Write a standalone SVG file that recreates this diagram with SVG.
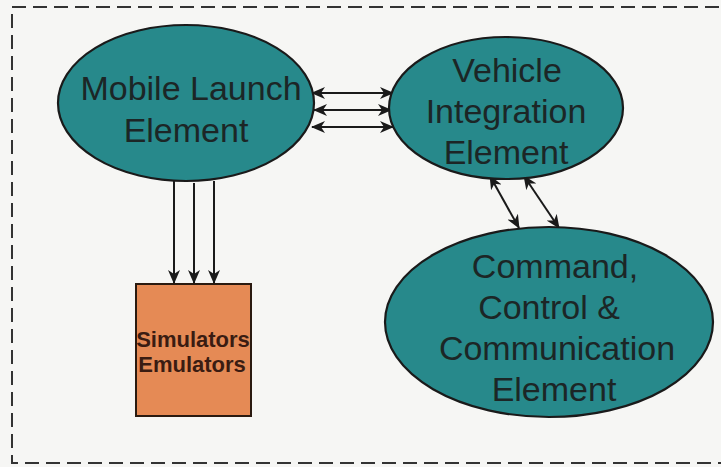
<svg xmlns="http://www.w3.org/2000/svg" width="721" height="467" viewBox="0 0 721 467">
<defs>
<marker id="ah" viewBox="0 0 14 12" refX="13" refY="6" markerWidth="14" markerHeight="12" markerUnits="userSpaceOnUse" orient="auto-start-reverse">
<path d="M0,0 L14,6 L0,12 L4,6 z" fill="#1a1a1a"/>
</marker>
<style>
.ell{fill:#27898b;stroke:#1a1a1a;stroke-width:2.2}
.lbl{font-family:"Liberation Sans",Arial,sans-serif;font-size:34px;fill:#1c2626;text-anchor:middle}
.box{fill:#e58a55;stroke:#2a1a10;stroke-width:2}
.blbl{font-family:"Liberation Sans",Arial,sans-serif;font-size:22px;font-weight:bold;fill:#3a1c12;text-anchor:middle}
.c{stroke:#1a1a1a;stroke-width:2;fill:none}
</style>
</defs>
<rect x="0" y="0" width="721" height="467" fill="#f6f6f4"/>
<rect x="12" y="7" width="720" height="456" fill="none" stroke="#333" stroke-width="2" stroke-dasharray="14,7"/>
<g id="connectors">
<line class="c" x1="174" y1="181" x2="174" y2="283" marker-end="url(#ah)"/>
<line class="c" x1="194" y1="183" x2="194" y2="283" marker-end="url(#ah)"/>
<line class="c" x1="214" y1="181" x2="214" y2="283" marker-end="url(#ah)"/>
<line class="c" x1="312" y1="93" x2="393" y2="93" marker-start="url(#ah)" marker-end="url(#ah)"/>
<line class="c" x1="314" y1="110" x2="391" y2="110" marker-start="url(#ah)" marker-end="url(#ah)"/>
<line class="c" x1="312" y1="127" x2="393" y2="127" marker-start="url(#ah)" marker-end="url(#ah)"/>
<line class="c" x1="490" y1="176" x2="519" y2="228" marker-start="url(#ah)" marker-end="url(#ah)"/>
<line class="c" x1="524" y1="176" x2="559" y2="228" marker-start="url(#ah)" marker-end="url(#ah)"/>
</g>
<g id="mobile-launch">
<ellipse class="ell" cx="186" cy="103" rx="128" ry="78"/>
<text class="lbl" x="191" y="100">Mobile Launch</text>
<text class="lbl" x="186" y="142">Element</text>
</g>
<g id="vehicle-integration">
<ellipse class="ell" cx="506" cy="108" rx="117" ry="71"/>
<text class="lbl" x="507" y="82">Vehicle</text>
<text class="lbl" x="506" y="123">Integration</text>
<text class="lbl" x="506" y="164">Element</text>
</g>
<g id="command-control">
<ellipse class="ell" cx="549" cy="322" rx="164" ry="95"/>
<text class="lbl" x="555" y="278">Command,</text>
<text class="lbl" x="549" y="319">Control &amp;</text>
<text class="lbl" x="557" y="360">Communication</text>
<text class="lbl" x="554" y="401">Element</text>
</g>
<g id="simulators">
<rect class="box" x="136" y="284" width="115" height="132"/>
<text class="blbl" x="193" y="347">Simulators</text>
<text class="blbl" x="192" y="372">Emulators</text>
</g>
</svg>
